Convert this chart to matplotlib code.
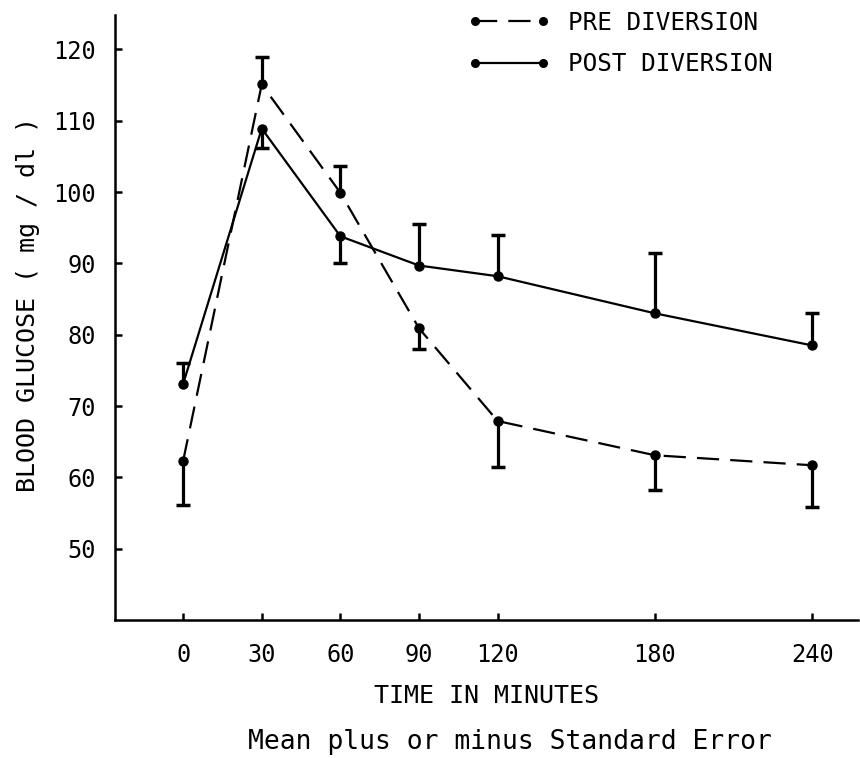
"""Blood glucose before/after diversion, mean with one-sided standard error bars."""
import matplotlib
matplotlib.use("Agg")
import matplotlib.pyplot as plt
from matplotlib.lines import Line2D

# minutes after the glucose load
minutes = [0, 30, 60, 90, 120, 180, 240]
tick_labels = ["0", "30", "60", "90", "120", "180", "240"]

# mean blood glucose (mg/dl)
pre_mean = [62.3, 115.1, 99.9, 80.9, 67.9, 63.1, 61.7]
post_mean = [73.1, 108.9, 93.8, 89.7, 88.2, 83.0, 78.5]

# end of the (one-sided) standard error bar for each point
pre_se_end = [56.1, 119.0, 103.7, 78.0, 61.5, 58.3, 55.8]
post_se_end = [76.1, 106.2, 90.0, 95.5, 94.0, 91.5, 83.1]

y_ticks = [50, 60, 70, 80, 90, 100, 110, 120]

plt.rcParams["font.family"] = ["DejaVu Sans Mono"]

fig = plt.figure(figsize=(8.6, 7.58), dpi=100)
ax = fig.add_axes([0.1337, 0.182, 0.864, 0.798])

line_kw = dict(color="black", linewidth=1.6, marker="o", markersize=6.5)
ax.plot(minutes, pre_mean, linestyle=(0, (10, 5)), **line_kw)
ax.plot(minutes, post_mean, linestyle="-", **line_kw)

for means, ends in ((pre_mean, pre_se_end), (post_mean, post_se_end)):
    ax.vlines(minutes, means, ends, color="black", linewidth=2.3)
    ax.plot(minutes, ends, linestyle="none", marker="_", markersize=10,
            markeredgewidth=2.5, color="black")

ax.set_xlim(-26, 257.5)
ax.set_ylim(40, 124.8)
ax.set_xticks(minutes)
ax.set_xticklabels(tick_labels)
ax.set_yticks(y_ticks)

for side in ("top", "right"):
    ax.spines[side].set_visible(False)
for side in ("left", "bottom"):
    ax.spines[side].set_linewidth(1.8)

ax.tick_params(axis="both", direction="in", length=5, width=1.8, labelsize=17)
ax.tick_params(axis="x", pad=16.5)
ax.tick_params(axis="y", pad=14)

ax.set_xlabel("TIME IN MINUTES", fontsize=18)
ax.xaxis.set_label_coords(0.5, (620 - 703) / 605)
ax.xaxis.label.set_verticalalignment("baseline")
ax.set_ylabel("BLOOD GLUCOSE ( mg / dl )", fontsize=18)
ax.yaxis.set_label_coords(-0.101, 0.522)

fig.text(0.593, 1 - 749 / 758, "Mean plus or minus Standard Error",
         fontsize=19, ha="center", va="baseline")

handles = [
    Line2D([], [], color="black", linewidth=1.6, linestyle=(0, (10, 5)),
           marker="o", markersize=5.5),
    Line2D([], [], color="black", linewidth=1.6, linestyle="-",
           marker="o", markersize=5.5),
]
ax.legend(handles, ["PRE DIVERSION", "POST DIVERSION"], loc="upper left",
          bbox_to_anchor=(468 / 860, 1 - 11 / 758),
          bbox_transform=fig.transFigure, frameon=False, fontsize=17.5,
          numpoints=2, handlelength=3.4, handletextpad=0.7,
          labelspacing=0.7, borderpad=0, borderaxespad=0)

fig.savefig("out.png", dpi=100)
